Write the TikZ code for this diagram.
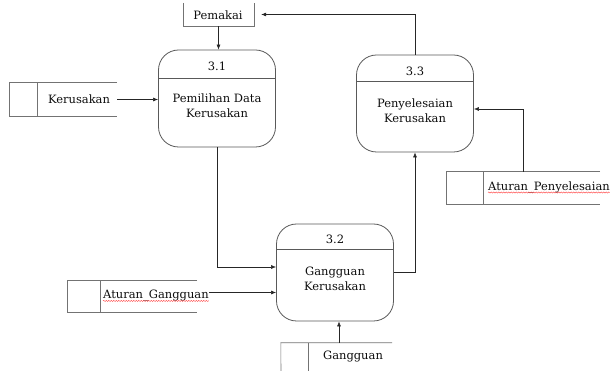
\documentclass[tikz,border=0pt]{standalone}
\usepackage{fontspec}
\setmainfont{DejaVu Serif}
\usetikzlibrary{arrows.meta,decorations.pathmorphing}
\begin{document}
\begin{tikzpicture}[x=1pt,y=-1pt,
  proc/.style={draw=black!65, line width=0.8pt, rounded corners=20pt,
    minimum width=117pt, minimum height=97pt, inner sep=0pt},
  divline/.style={draw=black!65, line width=0.6pt},
  storeline/.style={draw=black!55, line width=0.6pt},
  storebox/.style={inner sep=0pt, minimum width=#1},
  txt/.style={inner sep=0pt, align=center, text=black!95, font=\fontsize{11.5}{15}\selectfont},
  arr/.style={draw=black!85, line width=0.6pt, -{Latex[length=5pt,width=4pt]}},
  spell/.style={draw=red!80, line width=0.35pt, decorate,
    decoration={snake, amplitude=0.6pt, segment length=2.5pt}}]
\useasboundingbox (0,0) rectangle (614,371);

% processes
\node[proc] (p31) at (217,98.5) {};
\draw[divline] ([yshift=-29pt]p31.north west) -- ([yshift=-29pt]p31.north east);
\node[txt] (t31) at ([yshift=-17pt]p31.north) {3.1};
\node[txt] (b31) at ([yshift=-56pt]p31.north) {Pemilihan Data\\Kerusakan};

\node[proc] (p33) at (415,103.5) {};
\draw[divline] ([yshift=-27pt]p33.north west) -- ([yshift=-27pt]p33.north east);
\node[txt] (t33) at ([yshift=-17pt]p33.north) {3.3};
\node[txt] (b33) at ([yshift=-56pt]p33.north) {Penyelesaian\\Kerusakan};

\node[proc] (p32) at (335,272.5) {};
\draw[divline] ([yshift=-26pt]p32.north west) -- ([yshift=-26pt]p32.north east);
\node[txt] (t32) at ([yshift=-16pt]p32.north) {3.2};
\node[txt] (b32) at ([yshift=-55pt]p32.north) {Gangguan\\Kerusakan};

% stores
\node[storebox=71pt, minimum height=23pt] (pem) at (218.5,14.5) {};
\draw[storeline] (pem.north west) -- (pem.south west) -- (pem.south east) -- (pem.north east);
\node[txt] (pemT) at (218,15) {Pemakai};

\node[storebox=108pt, minimum height=33pt] (kerus) at (63,99.5) {};
\draw[storeline] (kerus.north east) -- (kerus.north west) -- (kerus.south west) -- (kerus.south east);
\draw[storeline] ([xshift=28pt]kerus.north west) -- ([xshift=28pt]kerus.south west);
\node[txt] (kerusT) at (79,99) {Kerusakan};

\node[storebox=130pt, minimum height=31pt] (ag) at (132,296.5) {};
\draw[storeline] (ag.north east) -- (ag.north west) -- (ag.south west) -- (ag.south east);
\draw[storeline] ([xshift=33pt]ag.north west) -- ([xshift=33pt]ag.south west);
\node[txt, anchor=west] (agT) at (103,295.5) {Aturan\_Gangguan};
\draw[spell] ([yshift=-2.5pt]agT.base west) -- ([yshift=-2.5pt]agT.base east);

\node[storebox=154pt, minimum height=32pt] (ap) at (523,188) {};
\draw[storeline] (ap.north east) -- (ap.north west) -- (ap.south west) -- (ap.south east);
\draw[storeline] ([xshift=37pt]ap.north west) -- ([xshift=37pt]ap.south west);
\node[txt, anchor=west] (apT) at (488,187) {Aturan\_Penyelesaian};
\draw[spell] ([yshift=-2.5pt]apT.base west) -- ([yshift=-2.5pt]apT.base east);

\node[storebox=111pt, minimum height=30pt] (gg) at (336.5,358) {};
\draw[storeline] (281,371) -- (gg.north west) -- (gg.north east);
\draw[storeline] (308,343) -- (308,371);
\node[txt] (ggT) at (353,357) {Gangguan};

% flows
\draw[arr] (pem.south) -- (pem.south |- p31.north);
\draw[arr] (kerus.east) -- (kerus.east -| p31.west);
\draw[arr] (p31.south) |- ([yshift=5.5pt]p32.west);
\coordinate (agout) at (209,292.5);
\draw[arr] (agout) -- (agout -| p32.west);
\coordinate (gin) at (339,343);
\draw[arr] (gin) -- (gin |- p32.south);
\draw[arr] (p32.east) -| (p33.south);
\draw[arr, shorten >=7pt] (p33.north) |- (pem.east);
\draw[arr] (ap.north) |- ([yshift=-5.5pt]p33.east);
\end{tikzpicture}
\end{document}
